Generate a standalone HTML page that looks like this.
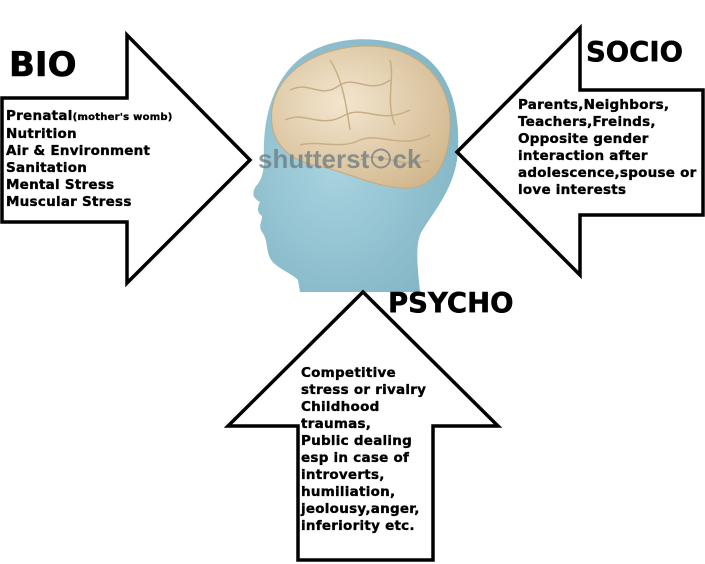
<!DOCTYPE html>
<html><head><meta charset="utf-8"><style>
html,body{margin:0;padding:0;background:#fff;}
#c{position:relative;width:705px;height:564px;overflow:hidden;font-family:"DejaVu Sans","Liberation Sans",sans-serif;font-weight:bold;color:#000;}
.t{position:absolute;white-space:nowrap;}
.s{font-size:13.5px;line-height:17px;letter-spacing:0.25px;-webkit-text-stroke:0.35px #000;}
</style></head><body><div id="c">
<svg width="705" height="564" style="position:absolute;left:0;top:0">
<defs>
<radialGradient id="hd" cx="0.4" cy="0.5" r="0.7"><stop offset="0" stop-color="#a9d3df"/><stop offset="1" stop-color="#7fb3c4"/></radialGradient>
<radialGradient id="br" cx="0.4" cy="0.4" r="0.7"><stop offset="0" stop-color="#f3e6cf"/><stop offset="1" stop-color="#d2b88e"/></radialGradient>
</defs>
<path d="M300,292 L298,280 C290,272 275,268 270,258 C266,250 268,240 262,232 C258,226 262,222 262,216 C256,212 258,206 260,202 C252,198 252,192 256,186 C262,180 264,170 264,160 C262,115 275,75 305,55 C335,35 385,34 418,52 C448,70 460,105 458,150 C456,190 430,215 420,235 C415,250 418,270 420,292 Z" fill="url(#hd)"/>
<path d="M272,110 C276,72 318,46 368,46 C420,46 452,82 450,127 C448,167 432,190 402,188 C372,186 347,172 322,167 C292,162 268,145 272,110 Z" fill="url(#br)" stroke="#c8a97c" stroke-width="1"/>
<g fill="none" stroke="#c9ae85" stroke-width="1.5">
<path d="M290,90 C310,80 320,100 340,85 C355,75 370,95 390,80"/>
<path d="M285,120 C305,110 320,130 345,115 C365,105 380,125 410,110"/>
<path d="M300,145 C320,140 340,150 360,140 C380,132 400,150 430,135"/>
<path d="M330,60 C340,75 345,95 350,130"/>
<path d="M390,60 C395,80 385,100 395,125"/>
<path d="M360,160 C380,150 400,170 430,160"/>
</g>
<text x="258" y="168" font-family="Liberation Sans,sans-serif" font-size="26" fill="#6c7a80" opacity="0.75">shutterst☉ck</text>
<g fill="#fff" stroke="#000" stroke-width="3.5" stroke-linejoin="miter">
<polygon points="2,98 127,98 127,35 250,160 127,283 127,222 2,222"/>
<polygon points="703,90 580,90 580,28 457,152 580,275 580,215 703,215"/>
<polygon points="363,292 498,426 433,426 433,560 298,560 298,426 228,426"/>
</g>
</svg>
<div class="t" style="left:9px;top:45px;font-size:34px;-webkit-text-stroke:0.6px #000;">BIO</div>
<div class="t s" style="left:6px;top:108px;">Prenatal<span style="font-size:10px">(mother's womb)</span><br>Nutrition<br>Air &amp; Environment<br>Sanitation<br>Mental Stress<br>Muscular Stress</div>
<div class="t" style="left:586px;top:36px;font-size:27.5px;-webkit-text-stroke:0.5px #000;">SOCIO</div>
<div class="t s" style="left:518px;top:97px;">Parents,Neighbors,<br>Teachers,Freinds,<br>Opposite gender<br>interaction after<br>adolescence,spouse or<br>love interests</div>
<div class="t" style="left:388px;top:287px;font-size:27.5px;-webkit-text-stroke:0.5px #000;">PSYCHO</div>
<div class="t s" style="left:301px;top:365px;">Competitive<br>stress or rivalry<br>Childhood<br>traumas,<br>Public dealing<br>esp in case of<br>introverts,<br>humiliation,<br>jeolousy,anger,<br>inferiority etc.</div>
</div></body></html>
